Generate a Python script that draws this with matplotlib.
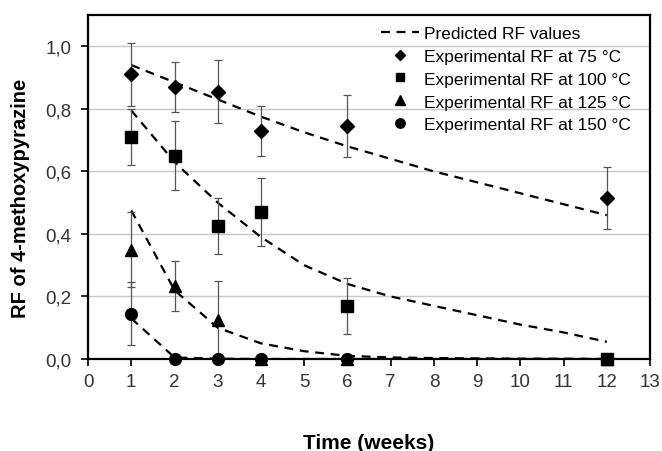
import matplotlib
matplotlib.use("Agg")
from matplotlib import pyplot as plt
from matplotlib.ticker import FuncFormatter

plt.rcParams["font.family"] = ["Liberation Sans", "DejaVu Sans"]

# measured times (weeks)
t_exp = [1, 2, 3, 4, 6, 12]

rf_75 = [0.91, 0.87, 0.855, 0.73, 0.745, 0.515]
err_75 = [0.10, 0.08, 0.10, 0.08, 0.10, 0.10]
rf_100 = [0.71, 0.65, 0.425, 0.47, 0.17, 0.0]
err_100 = [0.09, 0.11, 0.09, 0.11, 0.09, 0.0]
rf_125 = [0.35, 0.235, 0.125, 0.0, 0.0, 0.0]
err_125 = [0.12, 0.08, 0.125, 0.0, 0.0, 0.0]
rf_150 = [0.145, 0.0, 0.0, 0.0, 0.0, 0.0]
err_150 = [0.10, 0.0, 0.0, 0.0, 0.0, 0.0]

# predicted curves
t_pred = [1, 2, 3, 4, 5, 6, 7, 8, 9, 10, 11, 12]
pred_75 = [0.94, 0.885, 0.83, 0.775, 0.725, 0.68, 0.64, 0.60, 0.565, 0.53, 0.495, 0.46]
pred_100 = [0.795, 0.63, 0.50, 0.39, 0.30, 0.24, 0.20, 0.17, 0.14, 0.11, 0.085, 0.055]
pred_125 = [0.475, 0.22, 0.10, 0.05, 0.025, 0.01, 0.005, 0.003, 0.002, 0.001, 0.001, 0.0]
pred_150 = [0.13, 0.005, 0.001, 0.0, 0.0, 0.0, 0.0, 0.0, 0.0, 0.0, 0.0, 0.0]

fig = plt.figure(figsize=(6.62, 4.52), dpi=100)
ax = fig.add_axes([0.133, 0.2035, 0.849, 0.761])

ax.set_xlim(0, 13)
ax.set_ylim(0, 1.1)
ax.set_xticks(range(0, 14))
ax.set_yticks([0, 0.2, 0.4, 0.6, 0.8, 1.0])
ax.yaxis.set_major_formatter(FuncFormatter(lambda v, p: f"{v:.1f}".replace(".", ",")))
ax.grid(axis="y", color="#c8c8c8", linewidth=1.0)
ax.set_axisbelow(True)

dash = dict(color="black", linestyle=(0, (4, 3)), linewidth=1.6)
ax.plot(t_pred, pred_75, label="Predicted RF values", **dash)
for p in (pred_100, pred_125, pred_150):
    ax.plot(t_pred, p, **dash)

series = [
    (rf_75, err_75, "D", 7, "Experimental RF at 75 °C"),
    (rf_100, err_100, "s", 8, "Experimental RF at 100 °C"),
    (rf_125, err_125, "^", 8.5, "Experimental RF at 125 °C"),
    (rf_150, err_150, "o", 8.5, "Experimental RF at 150 °C"),
]
for vals, errs, mk, ms, lab in series:
    ax.errorbar(t_exp, vals, yerr=errs, fmt="none", ecolor="#555555",
                elinewidth=0.9, capsize=3, capthick=0.9, zorder=3)
    ax.plot(t_exp, vals, linestyle="none", marker=mk, markersize=ms,
            color="black", label=lab, zorder=4, clip_on=False)

for s in ax.spines.values():
    s.set_linewidth(1.6)
ax.tick_params(axis="both", direction="out", length=5, width=1.2,
               labelsize=13.5, colors="black", labelcolor="#333333")
ax.tick_params(axis="x", pad=5)
ax.tick_params(axis="y", pad=7)

ax.set_xlabel("Time (weeks)", fontsize=15, fontweight="bold")
ax.xaxis.set_label_coords(0.5, -0.215)
ax.set_ylabel("RF of 4-methoxypyrazine", fontsize=14.5, fontweight="bold")
ax.yaxis.set_label_coords(-0.103, 0.47)

leg = ax.legend(loc="upper right", frameon=False, fontsize=12.5, handlelength=2.2,
                handletextpad=0.3, labelspacing=0.45, markerscale=0.8,
                borderaxespad=0.2, bbox_to_anchor=(0.985, 1.0))

fig.savefig("out.png", dpi=100)
